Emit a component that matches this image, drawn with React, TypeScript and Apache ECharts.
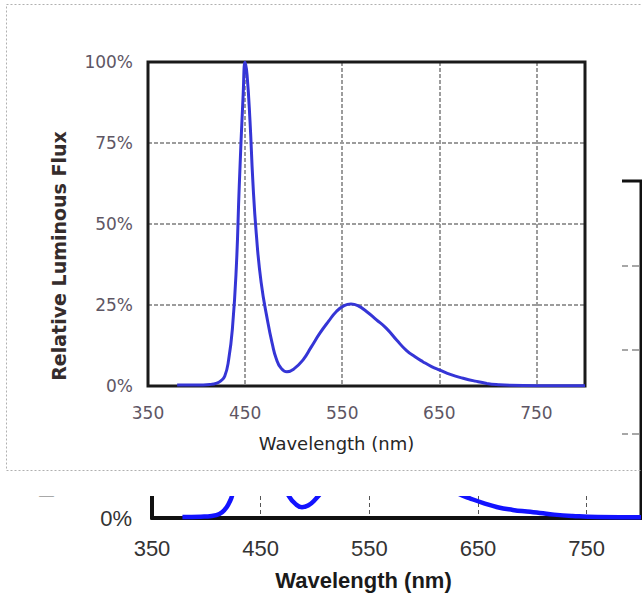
import React, { useEffect, useRef } from "react";
import * as echarts from "echarts";

// Inset (front) spectrum
const insetWavelengths = [380, 400, 415, 420, 425, 429, 433, 437, 441, 444, 448, 450, 452, 455, 458, 461.5, 466.5, 473.5, 478, 482, 487, 493, 500, 509.5, 518, 527, 536, 544, 552, 559, 566, 575, 585, 595.5, 606, 616, 625, 633, 642, 650.5, 662, 674.5, 687, 699, 711, 723, 750, 800];
const insetFlux = [0.3, 0.3, 0.5, 0.8, 1.6, 3, 8, 18, 37, 62, 90, 100, 96, 82, 63, 47, 32, 19.5, 13, 8.5, 5.5, 4.4, 5.2, 8, 12, 16.3, 20, 23, 24.8, 25.3, 24.8, 23, 20.5, 17.8, 14.2, 11, 9, 7.5, 6, 4.9, 3.5, 2.4, 1.5, 0.8, 0.4, 0.2, 0.1, 0.1];

// Main (background) spectrum
const mainWavelengths = [378, 395, 405, 412, 417, 421, 424, 428, 432, 436, 439, 442, 445, 449, 453, 458, 464, 470, 476, 482, 488, 494, 500, 508, 518, 528, 538, 548, 556, 564, 574, 586, 598, 610, 622, 632, 642, 655, 668, 682, 695, 707, 720, 737, 760, 800];
const mainFlux = [0.3, 0.4, 0.6, 1.2, 2.5, 4.5, 7, 14, 28, 52, 78, 100, 92, 72, 52, 34, 20, 11, 6.5, 4.2, 3.2, 3.8, 5.4, 8.5, 13, 17.5, 21.5, 24.5, 25, 24.2, 22, 18.5, 15, 11.8, 9, 7.2, 5.9, 4.4, 3.2, 2.4, 1.9, 1.5, 1, 0.6, 0.3, 0.2];

const xRange = [350, 800];
const xStep = 100;
const yRange = [0, 100];
const yStep = 25;
const xName = "Wavelength (nm)";
const yName = "Relative Luminous Flux";

function pairs(xs: number[], ys: number[]) {
  return xs.map((x, i) => [x, ys[i]]);
}

export default function App() {
  const ref = useRef<HTMLDivElement>(null);
  useEffect(() => {
    const chart = echarts.init(ref.current!, null, { renderer: "svg" });
    const backFont = "Liberation Sans, Arial, sans-serif";
    const frontFont = "DejaVu Sans, sans-serif";
    chart.setOption({
      animation: false,
      backgroundColor: "#ffffff",
      grid: [
        { left: 152, top: 181, width: 489, height: 337, show: true, borderColor: "#111", borderWidth: 3, z: 0 },
        { left: 148, top: 62, width: 437, height: 324, show: true, borderColor: "#1a1a1a", borderWidth: 3, z: 11 },
      ],
      xAxis: [
        {
          gridIndex: 0, type: "value", min: xRange[0], max: xRange[1], interval: xStep,
          axisLine: { show: true, onZero: false, lineStyle: { color: "#111", width: 4 } },
          axisTick: { show: false },
          axisLabel: { margin: 19, fontSize: 22, fontFamily: backFont, color: "#333", showMaxLabel: false },
          splitLine: { show: true, showMinLine: false, showMaxLine: false, lineStyle: { color: "#555", width: 1, type: [4, 3] } },
          name: xName, nameLocation: "middle", nameGap: 51,
          nameTextStyle: { fontFamily: backFont, fontWeight: "bold", fontSize: 22, color: "#1a1a1a", padding: [0, 66, 0, 0] },
          z: 0,
        },
        {
          gridIndex: 1, type: "value", min: xRange[0], max: xRange[1], interval: xStep,
          axisLine: { show: false },
          axisTick: { show: false },
          axisLabel: { margin: 18, fontSize: 17, fontFamily: frontFont, color: "#5e5664", showMaxLabel: false },
          splitLine: { show: true, showMinLine: false, showMaxLine: false, lineStyle: { color: "#9c9c9c", width: 2, type: [4, 2] } },
          name: xName, nameLocation: "middle", nameGap: 48,
          nameTextStyle: { fontFamily: frontFont, fontSize: 18, color: "#262626", padding: [0, 60, 0, 0] },
          z: 10,
        },
      ],
      yAxis: [
        {
          gridIndex: 0, type: "value", min: yRange[0], max: yRange[1], interval: yStep,
          axisLine: { show: true, onZero: false, lineStyle: { color: "#111", width: 4 } },
          axisTick: { show: false },
          axisLabel: { margin: 20, fontSize: 22, fontFamily: backFont, color: "#333", formatter: "{value}%" },
          splitLine: { show: true, showMinLine: false, showMaxLine: false, lineStyle: { color: "#8a8a8a", width: 1.5, type: [8, 4] } },
          name: yName, nameLocation: "middle", nameRotate: 90, nameGap: 95,
          nameTextStyle: { fontFamily: backFont, fontWeight: "bold", fontSize: 22, color: "#666", padding: [0, 50, 0, 0] },
          z: 0,
        },
        {
          gridIndex: 1, type: "value", min: yRange[0], max: yRange[1], interval: yStep,
          axisLine: { show: false },
          axisTick: { show: false },
          axisLabel: { margin: 15, fontSize: 17, fontFamily: frontFont, color: "#5e5664", formatter: "{value}%" },
          splitLine: { show: true, showMinLine: false, showMaxLine: false, lineStyle: { color: "#9c9c9c", width: 2, type: [4, 2] } },
          name: yName, nameLocation: "middle", nameRotate: 90, nameGap: 80,
          nameTextStyle: { fontFamily: frontFont, fontWeight: "bold", fontSize: 19, color: "#352c2c", padding: [0, 64, 0, 0] },
          z: 10,
        },
      ],
      graphic: [
        { type: "rect", silent: true, z: 5, shape: { x: 0, y: 0, width: 622, height: 496 }, style: { fill: "#ffffff" } },
        { type: "rect", silent: true, z: 6, shape: { x: 6.5, y: 4.5, width: 700, height: 466 }, style: { fill: "none", stroke: "#b0b0b0", lineWidth: 1, lineDash: [2, 2] } },
      ],
      series: [
        {
          type: "line", xAxisIndex: 0, yAxisIndex: 0, data: pairs(mainWavelengths, mainFlux),
          showSymbol: false, smooth: 0.5,
          lineStyle: { color: "#1212ff", width: 4.5 }, z: 2,
        },
        {
          type: "line", xAxisIndex: 1, yAxisIndex: 1, data: pairs(insetWavelengths, insetFlux),
          showSymbol: false, smooth: 0.5,
          lineStyle: { color: "#3535d6", width: 3 }, z: 12,
        },
      ],
    });
    return () => chart.dispose();
  }, []);
  return <div ref={ref} style={{ position: "fixed", left: 0, top: 0, width: 642, height: 598, background: "#fff" }} />;
}
